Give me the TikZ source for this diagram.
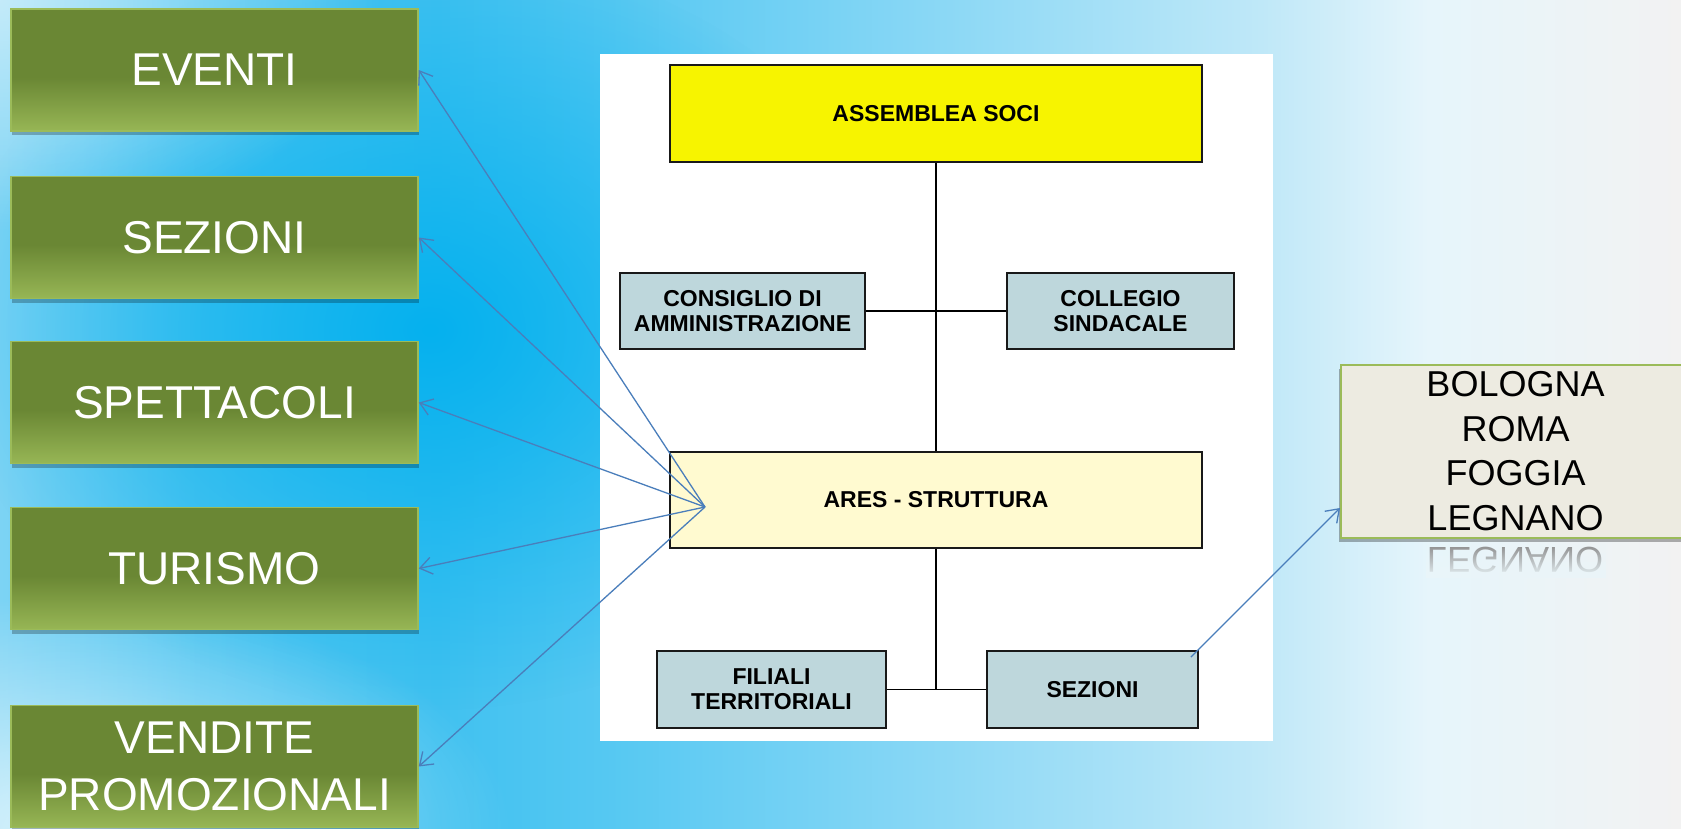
\documentclass[tikz,border=0pt]{standalone}
\usepackage{fontspec}
\setmainfont{Liberation Sans}
\usetikzlibrary{arrows.meta,shadows,fadings}
\definecolor{gdark}{HTML}{6A8734}
\definecolor{glight}{HTML}{97B655}
\definecolor{gborder}{HTML}{9BBB59}
\definecolor{connblue}{HTML}{4A7EBB}
\definecolor{orgblue}{HTML}{BED7DC}
\definecolor{orgyellow}{HTML}{F7F400}
\definecolor{orgcream}{HTML}{FFFAD0}
\definecolor{beigebox}{HTML}{EDEBE1}
\definecolor{bga}{HTML}{7CD3F4}
\definecolor{bgb}{HTML}{52C6F1}
\definecolor{bgc}{HTML}{40C1F0}
\definecolor{bgd}{HTML}{55C8F2}
\definecolor{bge}{HTML}{88D7F5}
\definecolor{bgf}{HTML}{BFE8F8}
\definecolor{bgg}{HTML}{E6F5FB}
\definecolor{bgh}{HTML}{F2F2F2}
\definecolor{bgdeep}{HTML}{05B1EE}
\definecolor{bgright}{HTML}{EAF5F9}
\pgfdeclarehorizontalshading{bgshade}{100bp}{color(0bp)=(bga); color(25bp)=(bga); color(31bp)=(bgb); color(38bp)=(bgc); color(43bp)=(bgd); color(52.5bp)=(bge); color(62.5bp)=(bgf); color(67.5bp)=(bgg); color(75bp)=(bgh); color(100bp)=(bgh)}
\pgfdeclareverticalshading{greenfill}{100bp}{color(0bp)=(glight); color(25bp)=(glight); color(47bp)=(gdark); color(75bp)=(gdark); color(100bp)=(gdark)}
\tikzfading[name=radfade, inner color=transparent!0, outer color=transparent!100]
\tikzfading[name=fadedown, top color=transparent!100, bottom color=transparent!0]
\tikzset{
  gbox/.style={shade, shading=greenfill, draw=gborder, line width=1.5pt,
    minimum width=407pt, minimum height=122pt, inner sep=0pt, text=white,
    font=\fontsize{46}{57}\selectfont, align=center,
    drop shadow={shadow xshift=1pt, shadow yshift=-4pt, opacity=.25, fill=black}},
  orgbox/.style={draw=black!90, line width=1.8pt, inner sep=0pt, align=center,
    font=\bfseries\fontsize{23}{25}\selectfont},
  citybox/.style={fill=beigebox, draw=gborder, line width=2pt, inner sep=0pt,
    minimum width=349pt, minimum height=173pt, align=center,
    font=\fontsize{36}{44.5}\selectfont,
    drop shadow={shadow xshift=-2pt, shadow yshift=-4pt, opacity=.3, fill=black}},
  orgline/.style={draw=black, line width=1.6pt},
  connarrow/.style={draw=connblue, line width=1.3pt, -{Straight Barb[length=12pt,width=17pt]}}
}
\begin{document}
\begin{tikzpicture}[x=1pt,y=-1pt]
\useasboundingbox (0,0) rectangle (1681,828);
% background
\shade[shading=bgshade] (0,0) rectangle (1681,828);
\fill[bgdeep, path fading=radfade] (430,330) ellipse [x radius=480, y radius=380];
\fill[white, opacity=.55, path fading=radfade] (0,0) ellipse [x radius=380, y radius=230];
\fill[white, opacity=.7, path fading=radfade] (60,828) ellipse [x radius=450, y radius=230];
% white panel
\fill[white] (600,54) rectangle (1273,741);
% org chart
\node[orgbox, fill=orgyellow, minimum width=532pt, minimum height=97pt] (ass) at (936,113.5) {ASSEMBLEA SOCI};
\node[orgbox, fill=orgblue, minimum width=245pt, minimum height=76pt] (cons) at (742.5,311) {CONSIGLIO DI\\AMMINISTRAZIONE};
\node[orgbox, fill=orgblue, minimum width=227pt, minimum height=76pt] (coll) at (1120.5,311) {COLLEGIO\\SINDACALE};
\node[orgbox, fill=orgcream, minimum width=532pt, minimum height=96pt] (ares) at (936,500) {ARES - STRUTTURA};
\node[orgbox, fill=orgblue, minimum width=229pt, minimum height=77pt] (fil) at (771.5,689.5) {FILIALI\\TERRITORIALI};
\node[orgbox, fill=orgblue, minimum width=211pt, minimum height=77pt] (sez) at (1092.5,689.5) {SEZIONI};
\draw[orgline] (ass.south) -- (ares.north);
\draw[orgline] (cons.east) -- (coll.west);
\draw[orgline] (ares.south) -- (ares.south |- fil.east);
\draw[orgline] (fil.east) -- (sez.west);
% green boxes
\node[gbox] (ev) at (214.5,70) {EVENTI};
\node[gbox] (sz) at (214.5,237.5) {SEZIONI};
\node[gbox] (sp) at (214.5,402.5) {SPETTACOLI};
\node[gbox] (tu) at (214.5,568.5) {TURISMO};
\node[gbox] (ve) at (214.5,766.5) {VENDITE\\PROMOZIONALI};
% cities box and its reflection
\node[text=black!45, font=\fontsize{36}{44.5}\selectfont] (refl) at (1515,560) {\scalebox{1}[-1]{LEGNANO}};
\fill[bgright, path fading=fadedown] (1426,544) rectangle (1606,578);
\node[citybox] (bol) at (1515.5,451) {BOLOGNA\\ROMA\\FOGGIA\\LEGNANO};
% connectors
\coordinate (o) at (705,507);
\draw[connarrow] (o) -- (ev.east);
\draw[connarrow] (o) -- (sz.east);
\draw[connarrow] (o) -- (sp.east);
\draw[connarrow] (o) -- (tu.east);
\draw[connarrow] (o) -- (ve.east);
\draw[connarrow] ([xshift=-8pt,yshift=-7pt]sez.north east) -- ([yshift=-57pt]bol.west);
\end{tikzpicture}
\end{document}
